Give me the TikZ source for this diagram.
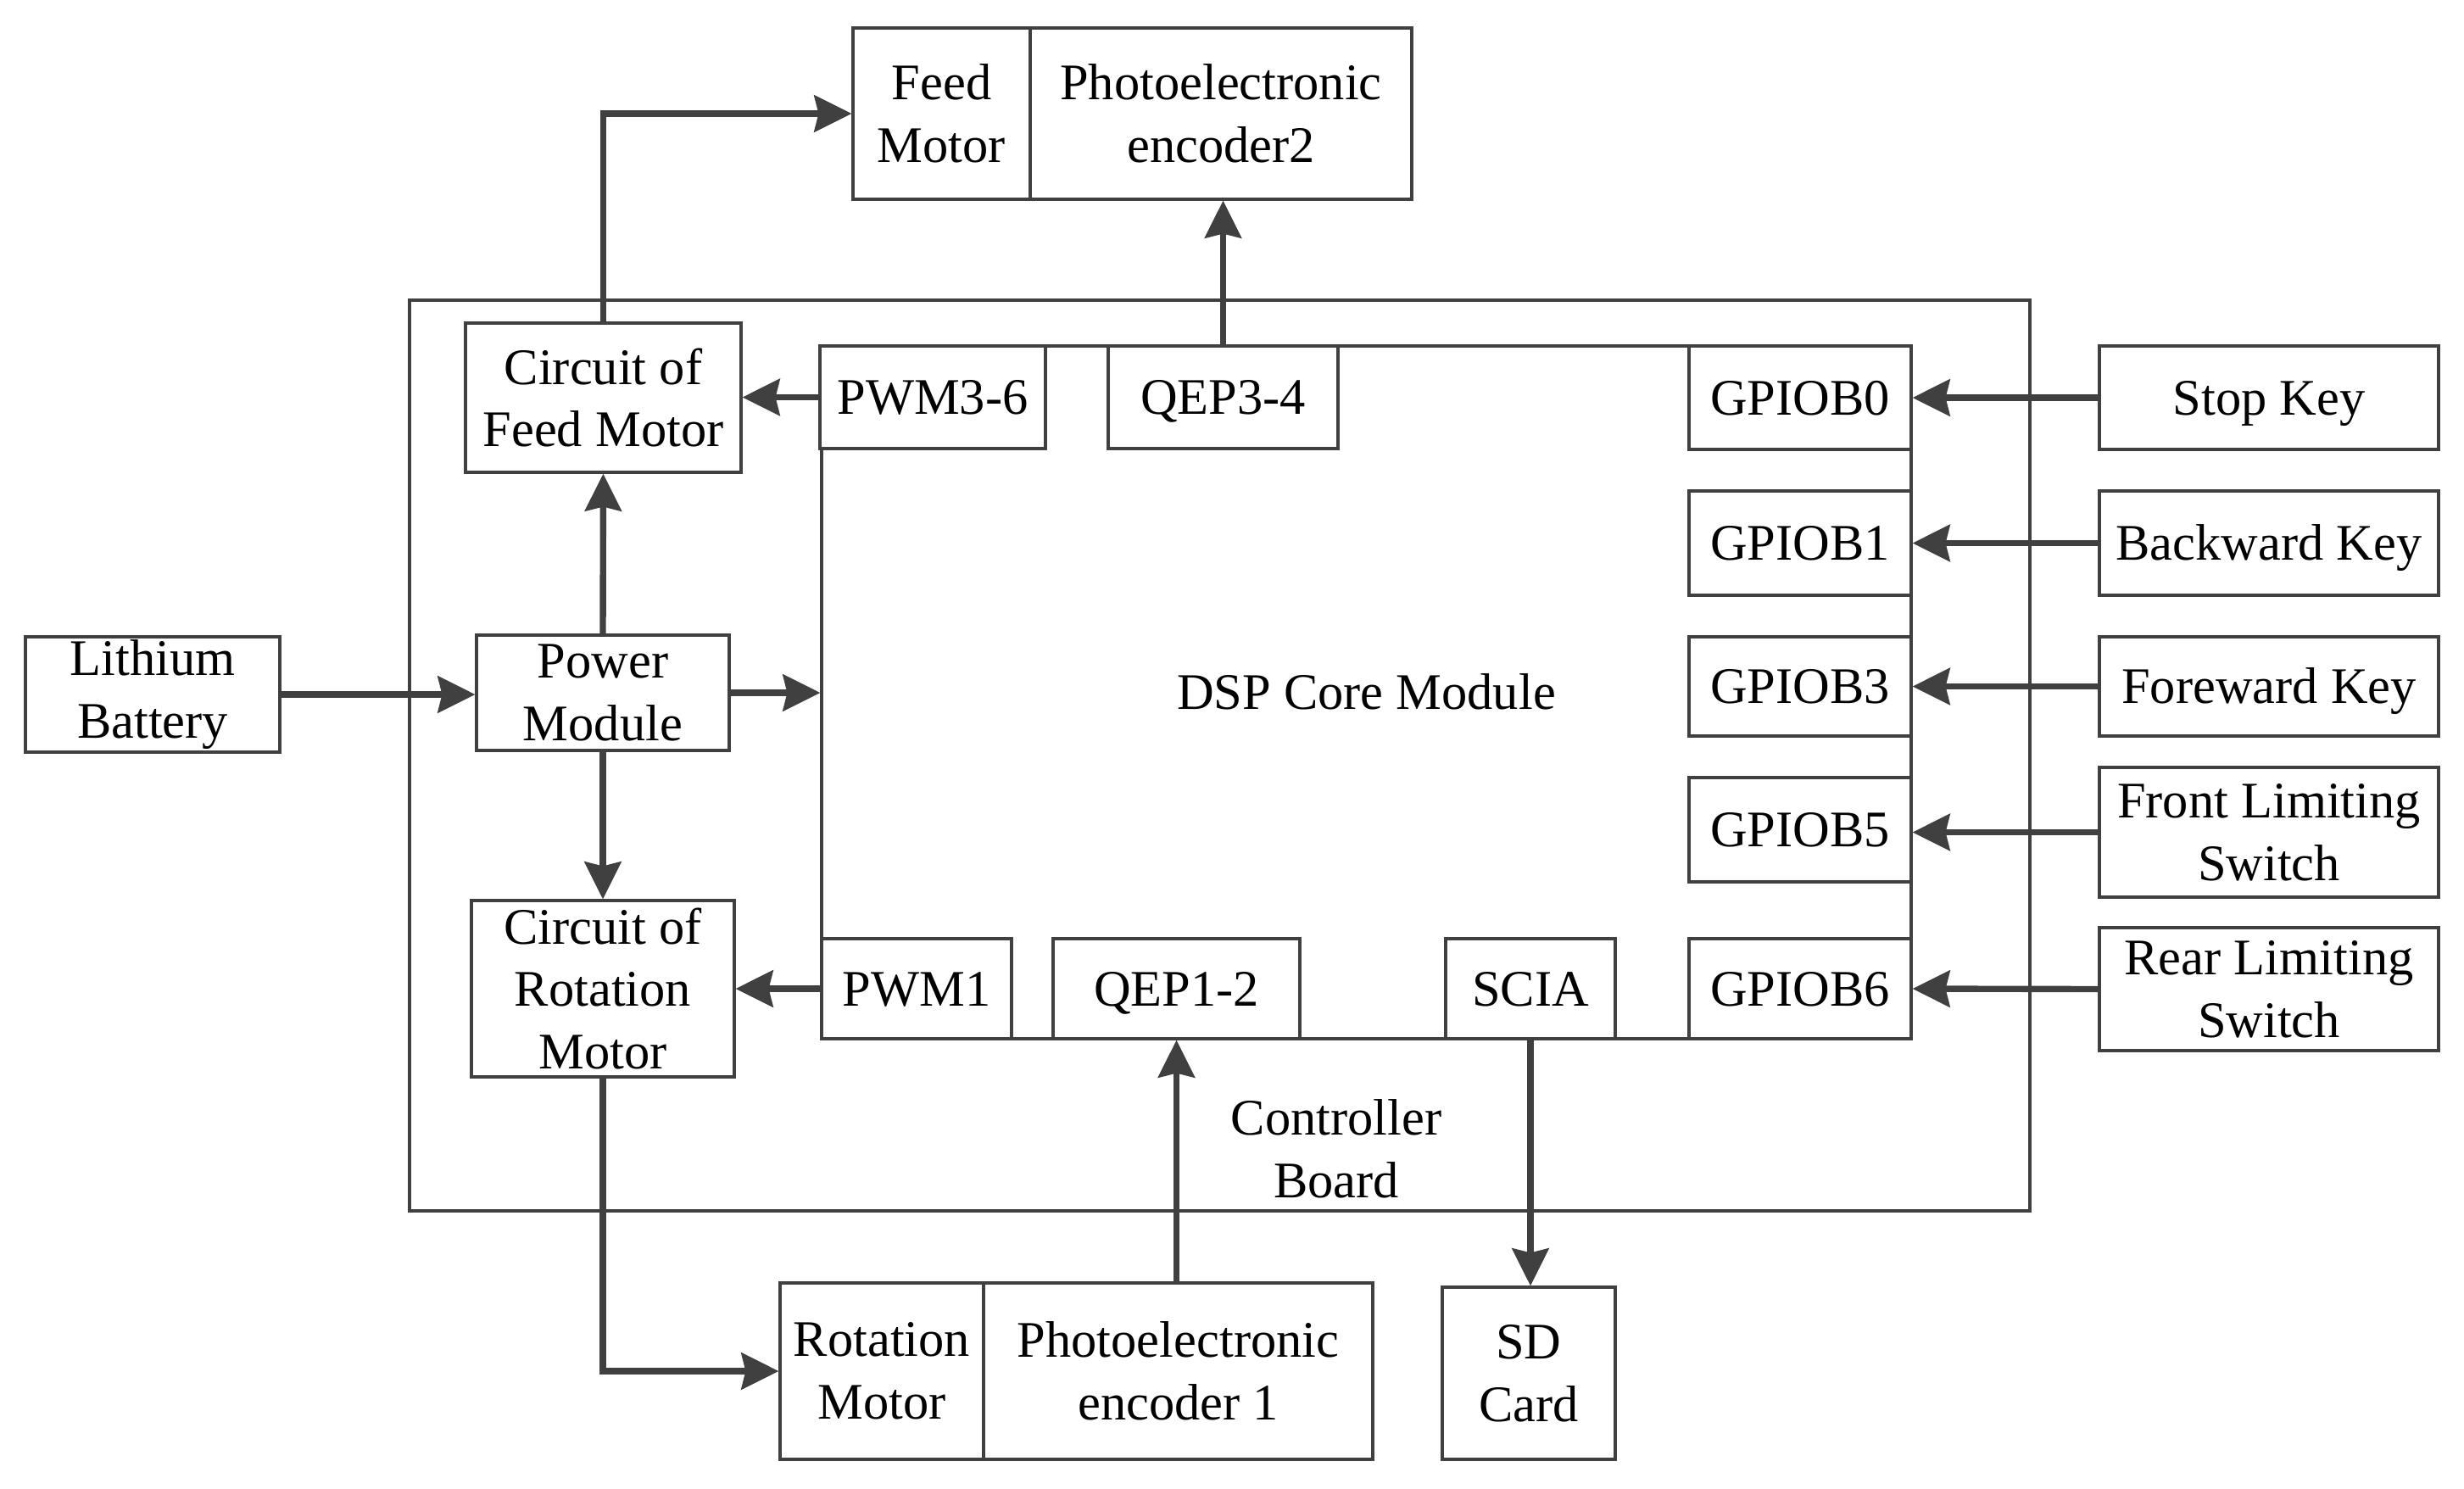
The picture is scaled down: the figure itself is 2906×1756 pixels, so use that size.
\documentclass[tikz,border=0pt]{standalone}
\usepackage{fontspec}
\setmainfont{Liberation Serif}
\usetikzlibrary{arrows.meta}
\definecolor{linegray}{HTML}{404040}
\begin{document}
\begin{tikzpicture}[x=0.1mm, y=-0.1mm]
\tikzset{box/.style={draw=linegray, line width=0.9pt, inner sep=0pt, align=center, font=\fontsize{17.2}{21}\selectfont}}
\tikzset{onebox/.style={box, text height=11.6pt, text depth=0pt}}
\tikzset{arrow/.style={-{Stealth[length=4.4mm,width=4.3mm,inset=0.5mm]}, draw=linegray, line width=2.1pt}}
\useasboundingbox (0,0) rectangle (2906,1756);

% controller board and DSP core
\draw[draw=linegray, line width=0.9pt] (483,354) rectangle (2394,1428);
\node[onebox, minimum width=128.5mm, minimum height=81.7mm] (dsp) at (1611.5,816.5) {DSP Core Module};
\node[box, draw=none] (board) at (1576,1355) {Controller\\Board};

% motors
\node[box, minimum width=20.9mm, minimum height=20.2mm] (feedm) at (1110.5,134) {Feed\\Motor};
\node[box, minimum width=45mm, minimum height=20.2mm] (enc2) at (1440,134) {Photoelectronic\\encoder2};
\node[box, minimum width=24mm, minimum height=20.8mm] (rotm) at (1040,1617) {Rotation\\Motor};
\node[box, minimum width=45.9mm, minimum height=20.8mm] (enc1) at (1389.5,1617) {Photoelectronic\\encoder 1};
\node[box, minimum width=20.4mm, minimum height=20.3mm] (sd) at (1803,1619.5) {SD\\Card};

% left side
\node[box, minimum width=30mm, minimum height=13.6mm] (lith) at (180,819) {Lithium\\Battery};
\node[box, minimum width=29.8mm, minimum height=13.6mm] (power) at (711,817) {Power\\Module};
\node[box, minimum width=32.5mm, minimum height=17.6mm] (cfeed) at (711.5,469) {Circuit of\\Feed Motor};
\node[box, minimum width=31mm, minimum height=20.8mm] (crot) at (711,1166) {Circuit of\\Rotation\\Motor};

% DSP pins
\node[onebox, fill=white, minimum width=26.6mm, minimum height=12.1mm] (pwm36) at (1100,468.5) {PWM3-6};
\node[onebox, fill=white, minimum width=27.1mm, minimum height=12.1mm] (qep34) at (1442.5,468.5) {QEP3-4};
\node[onebox, fill=white, minimum width=22.4mm, minimum height=11.8mm] (pwm1) at (1081,1166) {PWM1};
\node[onebox, fill=white, minimum width=29.1mm, minimum height=11.8mm] (qep12) at (1387.5,1166) {QEP1-2};
\node[onebox, fill=white, minimum width=20mm, minimum height=11.8mm] (scia) at (1805,1166) {SCIA};
\node[onebox, fill=white, minimum width=26.2mm, minimum height=12.2mm] (gpio0) at (2123,469) {GPIOB0};
\node[onebox, fill=white, minimum width=26.2mm, minimum height=12.3mm] (gpio1) at (2123,640.5) {GPIOB1};
\node[onebox, fill=white, minimum width=26.2mm, minimum height=11.7mm] (gpio3) at (2123,809.5) {GPIOB3};
\node[onebox, fill=white, minimum width=26.2mm, minimum height=12.3mm] (gpio5) at (2123,978.5) {GPIOB5};
\node[onebox, fill=white, minimum width=26.2mm, minimum height=11.8mm] (gpio6) at (2123,1166) {GPIOB6};

% keys and switches
\node[onebox, minimum width=40mm, minimum height=12.2mm] (stop) at (2676,469) {Stop Key};
\node[onebox, minimum width=40mm, minimum height=12.3mm] (back) at (2676,640.5) {Backward Key};
\node[onebox, minimum width=40mm, minimum height=11.7mm] (fore) at (2676,809.5) {Foreward Key};
\node[box, minimum width=40mm, minimum height=15.3mm] (front) at (2676,981.5) {Front Limiting\\Switch};
\node[box, minimum width=40mm, minimum height=14.5mm] (rear) at (2676,1166.5) {Rear Limiting\\Switch};

\draw[arrow] (lith.east) -- (lith.east -| power.west);
\draw[arrow] (power.east) -- (power.east -| dsp.west);
\draw[arrow] (power.north) -- (cfeed.south);
\draw[arrow] (power.south) -- (crot.north);
\draw[arrow] (pwm36.west) -- (pwm36.west -| cfeed.east);
\draw[arrow] (pwm1.west) -- (pwm1.west -| crot.east);
\draw[arrow] (cfeed.north) |- (feedm.west);
\draw[arrow] (crot.south) |- (rotm.west);
\draw[arrow] (qep34.north) -- (qep34.north |- enc2.south);
\draw[arrow] (qep12.south |- enc1.north) -- (qep12.south);
\draw[arrow] (scia.south) -- (scia.south |- sd.north);

\draw[arrow] (stop.west) -- (gpio0.east);
\draw[arrow] (back.west) -- (gpio1.east);
\draw[arrow] (fore.west) -- (gpio3.east);
\draw[arrow] (front.west) -- (front.west -| gpio5.east);
\draw[arrow] (rear.west) -- (gpio6.east);

\end{tikzpicture}
\end{document}
